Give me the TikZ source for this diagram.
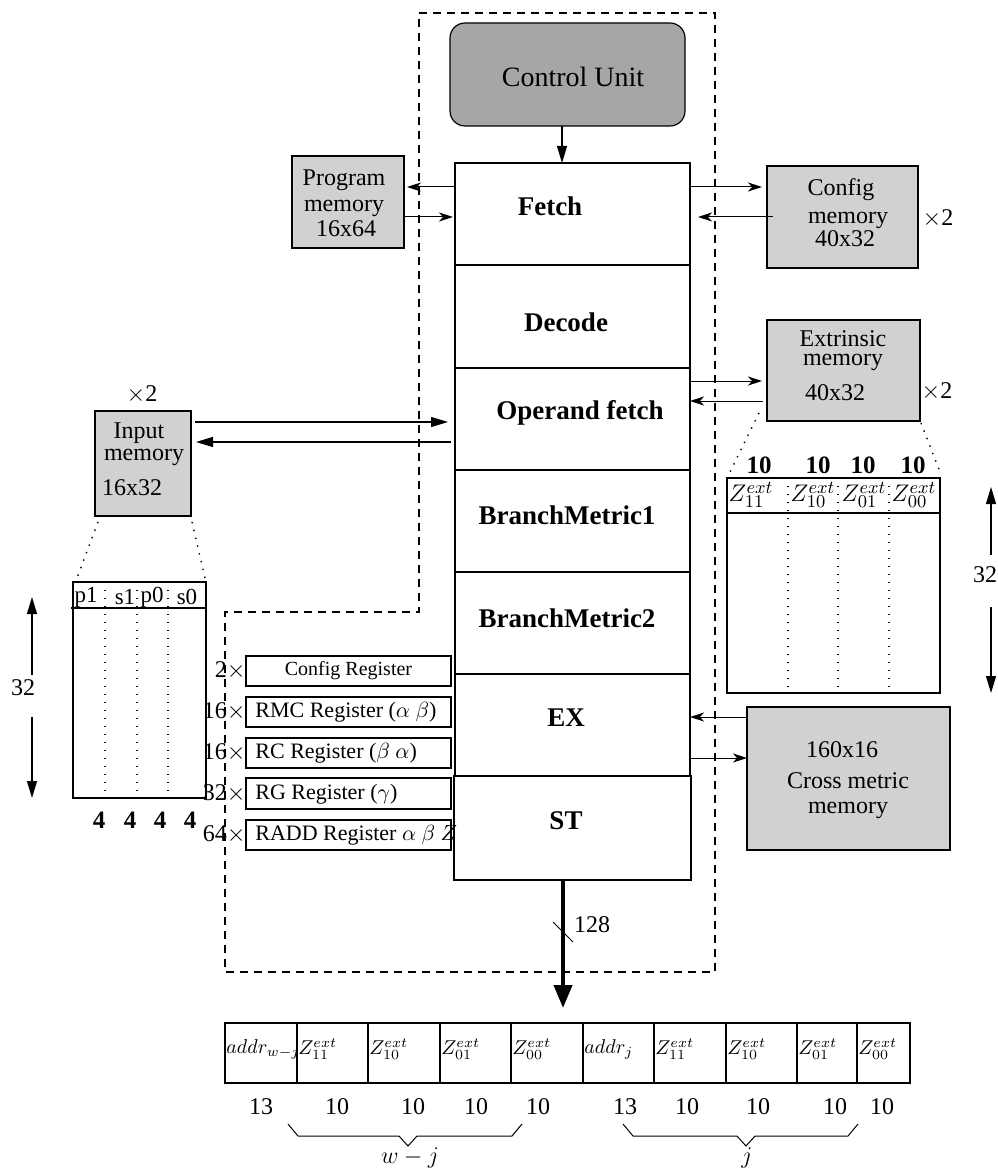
\documentclass[tikz,border=0pt]{standalone}
\usepackage{fontspec}
\setmainfont{Liberation Serif}
\usetikzlibrary{arrows.meta,fit}
\definecolor{cugray}{gray}{0.65}
\definecolor{memgray}{gray}{0.82}
\newcommand{\fsz}[1]{\fontsize{#1}{#1}\selectfont}
\begin{document}
\begin{tikzpicture}[x=0.5pt,y=-0.5pt,
  box/.style={draw, line width=0.6pt, inner sep=0pt, outer sep=0pt},
  mem/.style={box, fill=memgray},
  txt/.style={inner sep=0pt, font=\fsz{12}},
  big/.style={inner sep=0pt, font=\fsz{14}},
  stg/.style={inner sep=0pt, font=\fsz{13.5}\bfseries},
  bnum/.style={inner sep=0pt, font=\fsz{12.5}\bfseries},
  regtxt/.style={inner sep=0pt, anchor=west, font=\fsz{11}},
  sarr/.style={-{Stealth[length=7pt,width=4.5pt,inset=2pt]}, line width=0.5pt},
  tarr/.style={-{Triangle[length=8.5pt,width=5pt]}, line width=0.6pt},
  dots/.style={line width=0.7pt, dash pattern=on 0.7pt off 3.3pt},
  frame/.style={line width=1pt, dash pattern=on 4pt off 3pt}]
\useasboundingbox (0,0) rectangle (997,1171);

% ---------- dashed processor outline ----------
\draw[frame] (419,13) -- (715,13) -- (715,972) -- (225,972) -- (225,612) -- (419,612) -- cycle;

% ---------- control unit ----------
\node[box, fill=cugray, rounded corners=7.5pt, fit={(450,23) (685,126)}] (cu) {};
\node[big] (cutext) at (573,77) {Control Unit};

% ---------- pipeline stages ----------
\node[box, fit={(455,163) (690,265)}] (fetch) {};
\node[box, fit={(455,265) (690,368)}] (decode) {};
\node[box, fit={(455,368) (690,470)}] (opf) {};
\node[box, fit={(455,470) (690,572)}] (bm1) {};
\node[box, fit={(455,572) (690,674)}] (bm2) {};
\node[box, fit={(455,674) (690,776)}] (ex) {};
\node[box, fit={(454,776) (691,880)}] (st) {};
\node[stg] (tfetch) at (550,206) {Fetch};
\node[stg] (tdecode) at (566,322) {Decode};
\node[stg] (topf) at (580,413) {Operand fetch};
\node[stg] (tbm1) at (567,515) {BranchMetric1};
\node[stg] (tbm2) at (567,618) {BranchMetric2};
\node[stg] (tex) at (566,718) {EX};
\node[stg] (tst) at (566,821) {ST};

% ---------- memories ----------
\node[mem, fit={(292,156) (404,248)}] (pm) {};
\node[txt] (pm1) at (344,180) {Program};
\node[txt] (pm2) at (344,208) {memory};
\node[txt] (pm3) at (346,229) {16x64};

\node[mem, fit={(767,166) (918,268)}] (cfg) {};
\node[txt] (cf1) at (841,190) {Config};
\node[txt] (cf2) at (848,220) {memory};
\node[txt] (cf3) at (845,239) {40x32};
\node[txt] (cfx) at (938,219) {$\times$2};

\node[mem, fit={(767,320) (920,421)}] (ext) {};
\node[txt] (ex1) at (843,339) {Extrinsic};
\node[txt] (ex2) at (843,362) {memory};
\node[txt] (ex3) at (835,393) {40x32};
\node[txt] (exx) at (937,392) {$\times$2};

\node[mem, fit={(95,411) (191,516)}] (inm) {};
\node[txt] (in1) at (139,433) {Input};
\node[txt] (in2) at (144,457) {memory};
\node[txt] (in3) at (132,488) {16x32};
\node[txt] (inx) at (142,395) {$\times$2};

\node[mem, fit={(747,707) (950,850)}] (cross) {};
\node[txt] (cr1) at (842,750) {160x16};
\node[txt] (cr2) at (848,781) {Cross metric};
\node[txt] (cr3) at (848,810) {memory};

% ---------- input memory layout ----------
\node[box, fit={(73,582) (206,798)}] (inT) {};
\draw[line width=0.6pt] (71,608) -- (206,608);
\foreach \x in {105,137,168} \draw[dots] (\x,582) -- (\x,798);
\node[inner sep=0pt, font=\fsz{11.5}] (p1) at (86,597) {p1};
\node[inner sep=0pt, font=\fsz{11.5}] (s1) at (125,597) {s1};
\node[inner sep=0pt, font=\fsz{11.5}] (p0) at (152,597) {p0};
\node[inner sep=0pt, font=\fsz{11.5}] (s0) at (187,597) {s0};
\foreach \x [count=\i] in {99,130,160,190} \node[bnum] (four\i) at (\x,820) {4};
\draw[dots] ([shift={(3,6)}]inm.south west) -- ([shift={(4,-4)}]inT.north west);
\draw[dots] ([shift={(1,6)}]inm.south east) -- ([shift={(-1,-4)}]inT.north east);
\node[txt] (n32l) at (23,688) {32};
\coordinate (la) at (32,675); \coordinate (lb) at (32,597);
\coordinate (lc) at (32,717); \coordinate (ld) at (32,798);
\draw[tarr] (la) -- (lb);
\draw[tarr] (lc) -- (ld);

% ---------- extrinsic memory layout ----------
\node[box, fit={(727,478) (940,693)}] (extT) {};
\draw[line width=0.6pt] (727,513) -- (940,513);
\foreach \x in {788,838,889} \draw[dots] (\x,478) -- (\x,693);
\node[inner sep=0pt, font=\fsz{13}] (z11) at (751,495) {$Z^{ext}_{11}$};
\node[inner sep=0pt, font=\fsz{13}] (z10) at (813,495) {$Z^{ext}_{10}$};
\node[inner sep=0pt, font=\fsz{13}] (z01) at (864,495) {$Z^{ext}_{01}$};
\node[inner sep=0pt, font=\fsz{13}] (z00) at (914,495) {$Z^{ext}_{00}$};
\foreach \x [count=\i] in {759,818,863,913} \node[bnum] (ten\i) at (\x,465) {10};
\draw[dots] ([shift={(-8,-8)}]ext.south west) -- ([shift={(3,-6)}]extT.north west);
\draw[dots] ([shift={(1,2)}]ext.south east) -- ([shift={(0,-6)}]extT.north east);
\node[txt] (n32r) at (985,575) {32};
\coordinate (ra) at (991,555); \coordinate (rb) at (991,487);
\coordinate (rc) at (991,607); \coordinate (rd) at (991,693);
\draw[tarr] (ra) -- (rb);
\draw[tarr] (rc) -- (rd);

% ---------- register files ----------
\node[box, fit={(246,656) (451,686)}] (r1) {};
\node[box, fit={(246,697) (451,727)}] (r2) {};
\node[box, fit={(246,738) (451,768)}] (r3) {};
\node[box, fit={(246,778) (451,809)}] (r4) {};
\node[box, fit={(246,820) (451,850)}] (r5) {};
\node[inner sep=0pt, font=\fsz{10}] (r1t) at (r1.center) {Config Register};
\node[regtxt] (r2t) at (255,712) {RMC Register ($\alpha$ $\beta$)};
\node[regtxt] (r3t) at (255,753) {RC Register ($\beta$ $\alpha$)};
\node[regtxt] (r4t) at (255,794) {RG Register ($\gamma$)};
\node[regtxt] (r5t) at (255,835) {RADD Register $\alpha$ $\beta$ $Z$};
\node[txt, anchor=east] (m1) at (r1.west) {2$\times$};
\node[txt, anchor=east] (m2) at (r2.west) {16$\times$};
\node[txt, anchor=east] (m3) at (r3.west) {16$\times$};
\node[txt, anchor=east] (m4) at (r4.west) {32$\times$};
\node[txt, anchor=east] (m5) at (r5.west) {64$\times$};

% ---------- connections ----------
\coordinate (xcu) at (562,0);
\draw[tarr] (cu.south -| xcu) -- (fetch.north -| xcu);

\coordinate (y187) at (0,187); \coordinate (y217) at (0,217);
\draw[sarr] (fetch.west |- y187) -- ([xshift=1.5pt]pm.east |- y187);
\draw[sarr] (pm.east |- y217) -- ([xshift=-1pt]fetch.west |- y217);
\draw[sarr, shorten >=2.5pt] (fetch.east |- y187) -- (cfg.west |- y187);
\draw[sarr, shorten <=-3pt, shorten >=4pt] (cfg.west |- y217) -- (fetch.east |- y217);

\coordinate (y381) at (0,381); \coordinate (y401) at (0,401);
\draw[sarr, shorten >=2.5pt] (opf.east |- y381) -- (ext.west |- y381);
\draw[sarr, shorten <=2pt] (ext.west |- y401) -- (opf.east |- y401);

\coordinate (y422) at (0,422); \coordinate (y442) at (0,442);
\draw[tarr, shorten <=2pt, shorten >=3.5pt] (inm.east |- y422) -- (opf.west |- y422);
\draw[tarr, shorten <=2pt, shorten >=2.5pt] (opf.west |- y442) -- (inm.east |- y442);

\coordinate (y717) at (0,717); \coordinate (y758) at (0,758);
\draw[sarr] (cross.west |- y717) -- (ex.east |- y717);
\draw[sarr] (ex.east |- y758) -- (cross.west |- y758);

% ---------- output word ----------
\foreach \a/\b/\t [count=\i] in {225/297/{$addr_{w-j}$},297/368/{$Z^{ext}_{11}$},368/440/{$Z^{ext}_{10}$},440/511/{$Z^{ext}_{01}$},511/583/{$Z^{ext}_{00}$},583/654/{$addr_j$},654/726/{$Z^{ext}_{11}$},726/797/{$Z^{ext}_{10}$},797/857/{$Z^{ext}_{01}$},857/910/{$Z^{ext}_{00}$}}{
  \node[box, fit={(\a,1023) (\b,1083)}] (cell\i) {};
  \node[anchor=west, inner sep=0.5pt, font=\fsz{10}] (lab\i) at (\a,1049) {\t};
}
\coordinate (xo) at (563,0);
\draw[line width=2pt, -{Triangle[length=11.5pt,width=9pt]}, shorten >=7.5pt] (st.south -| xo) -- (cell5.north -| xo);
\draw[line width=0.5pt] (553,922) -- (573,942);
\node[txt] (w128) at (592,925) {128};

\foreach \x/\n [count=\i] in {261/13,337/10,413/10,476/10,538/10,625/13,687/10,758/10,835/10,882/10}
  \node[txt] (wd\i) at (\x,1107) {\n};

% braces grouping the two halves
\draw[line width=0.5pt] (288,1124) -- (298,1136) -- (399,1136) -- (408,1146) -- (417,1136) -- (512,1136) -- (522,1124);
\node[txt] (gwj) at (410,1158) {$w-j$};
\draw[line width=0.5pt] (623,1124) -- (633,1136) -- (737,1136) -- (746,1146) -- (755,1136) -- (848,1136) -- (858,1124);
\node[txt] (gj) at (747,1158) {$j$};
\end{tikzpicture}
\end{document}
